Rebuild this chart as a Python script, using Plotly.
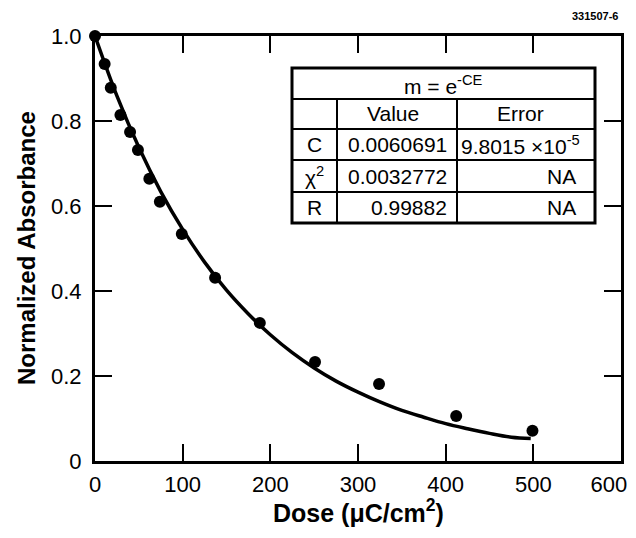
import plotly.graph_objects as go

# ---- data ----
dose = [0, 11, 18, 29, 40, 49, 62, 74, 99, 137, 188, 251, 324, 412, 499]
absorbance = [1.0, 0.934, 0.878, 0.814, 0.774, 0.732, 0.664, 0.61, 0.534, 0.431, 0.325, 0.233, 0.181, 0.106, 0.071]

fit_dose = [0, 25, 50, 75, 100, 125, 150, 175, 200, 225, 250, 275, 300, 325, 350, 375, 400, 425, 450, 475, 497]
fit_abs = [1.0, 0.859, 0.738, 0.634, 0.545, 0.468, 0.402, 0.346, 0.297, 0.255, 0.219, 0.188, 0.162, 0.139,
           0.119, 0.103, 0.088, 0.076, 0.065, 0.056, 0.053]

x_ticks = [0, 100, 200, 300, 400, 500, 600]
x_ticktext = ["0", "100", "200", "300", "400", "500", "600&nbsp;&nbsp;&nbsp;&nbsp;"]
y_ticks = [0, 0.2, 0.4, 0.6, 0.8, 1.0]
y_ticktext = ["0", "0.2", "0.4", "0.6", "0.8", "1.0"]

x_title = "<b>Dose (μC/cm<sup>2</sup>)</b>"
y_title = "<b>Normalized Absorbance</b>"

table_title = "m = e<sup>-CE</sup>"
table_header = ["", "Value", "Error"]
table_rows = [
    ["C", "0.0060691", "9.8015 ×10<sup>-5</sup>"],
    ["χ<sup>2</sup>", "0.0032772", "NA"],
    ["R", "0.99882", "NA"],
]

# ---- layout geometry (page pixels; the page body adds an 8px offset) ----
PAGE_W, PAGE_H = 636, 538
OFF = 8
W, H = PAGE_W - 2 * OFF, PAGE_H - 2 * OFF   # figure fits inside the body margins
L, R, T, B = 95, 621, 36, 461   # plot area edges in page pixels


def px(x):
    return (x - L) / (R - L)


def py(y):
    return (B - y) / (B - T)


FONT = "Liberation Sans, Arial, Helvetica, sans-serif"

fig = go.Figure()
fig.add_trace(go.Scatter(x=fit_dose, y=fit_abs, mode="lines",
                         line=dict(color="black", width=3.5, shape="spline"),
                         hoverinfo="skip", cliponaxis=False))
fig.add_trace(go.Scatter(x=dose, y=absorbance, mode="markers",
                         marker=dict(color="black", size=12), cliponaxis=False))

axis_common = dict(showline=True, linecolor="black", linewidth=3, mirror="ticks",
                   ticks="inside", ticklen=17, tickwidth=2, tickcolor="black",
                   showgrid=False, zeroline=False, automargin=False,
                   ticklabeloverflow="allow",
                   tickfont=dict(family=FONT, size=22, color="black"))

fig.update_xaxes(range=[0, 600], tickvals=x_ticks, ticktext=x_ticktext, ticklabelstandoff=2,
                 **axis_common)
fig.update_yaxes(range=[0, 1.0], tickvals=y_ticks, ticktext=y_ticktext, ticklabelstandoff=6,
                 **axis_common)

# ---- fit-result table ----
xs = [292, 337, 457, 595]
ys = [68, 99, 129, 160, 192, 223]
shapes = []
shapes.append(dict(type="rect", xref="paper", yref="paper", x0=px(xs[0]), x1=px(xs[3]),
                   y0=py(ys[0]), y1=py(ys[-1]), line=dict(color="black", width=3),
                   fillcolor="white", layer="above"))
for yy in ys[1:-1]:
    shapes.append(dict(type="line", xref="paper", yref="paper", x0=px(xs[0]), x1=px(xs[3]),
                       y0=py(yy), y1=py(yy), line=dict(color="black", width=2)))
for xx in xs[1:3]:
    shapes.append(dict(type="line", xref="paper", yref="paper", x0=px(xx), x1=px(xx),
                       y0=py(ys[1]), y1=py(ys[-1]), line=dict(color="black", width=2)))

ann = []
tf = dict(family=FONT, size=21, color="black")


def cell(text, x, y, anchor="center"):
    ann.append(dict(text=text, x=px(x), y=py(y), xref="paper", yref="paper",
                    xanchor=anchor, yanchor="middle", showarrow=False, font=tf))


cell(table_title, (xs[0] + xs[3]) / 2, (ys[0] + ys[1]) / 2 + 1)
cell(table_header[1], (xs[1] + xs[2]) / 2 - 4, (ys[1] + ys[2]) / 2)
cell(table_header[2], (xs[2] + xs[3]) / 2 - 6, (ys[1] + ys[2]) / 2)
for i, row in enumerate(table_rows):
    yc = (ys[2 + i] + ys[3 + i]) / 2
    cell(row[0], (xs[0] + xs[1]) / 2, yc)
    cell(row[1], 449, yc, "right")
    if row[2] == "NA":
        cell(row[2], 578, yc, "right")
    else:
        cell(row[2], 459, yc, "left")

# axis titles
ann.append(dict(text=x_title, x=px(358), y=py(511), xref="paper", yref="paper",
                xanchor="center", yanchor="middle", showarrow=False,
                font=dict(family=FONT, size=25, color="black")))
ann.append(dict(text=y_title, x=px(27), y=py(248), xref="paper", yref="paper",
                xanchor="center", yanchor="middle", showarrow=False, textangle=-90,
                font=dict(family=FONT, size=24, color="black")))

ann.append(dict(text="<b>331507-6</b>", x=px(621), y=py(16), xref="paper", yref="paper",
                xanchor="right", yanchor="middle", showarrow=False,
                font=dict(family=FONT, size=11, color="black")))

fig.update_layout(width=W, height=H,
                  margin=dict(l=L - OFF, r=W - (R - OFF), t=T - OFF, b=H - (B - OFF)),
                  paper_bgcolor="white", plot_bgcolor="white", showlegend=False,
                  shapes=shapes, annotations=ann)

fig.write_html("out.html")
